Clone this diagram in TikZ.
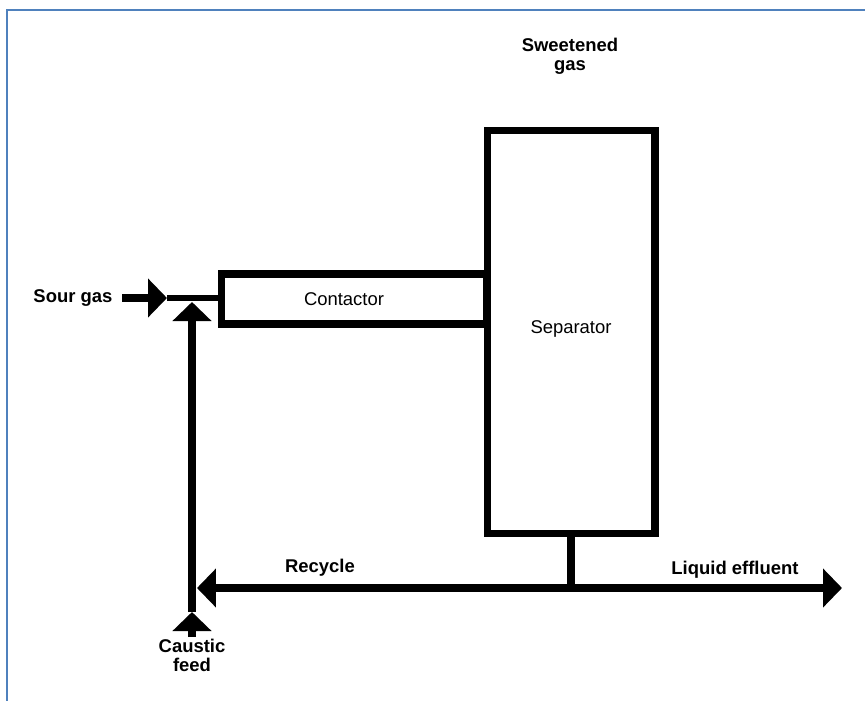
\documentclass[tikz,border=0pt]{standalone}
\usepackage{fontspec}
\setmainfont{Liberation Sans}
\usetikzlibrary{arrows.meta, positioning, calc}
\definecolor{frameblue}{RGB}{79,129,189}

\begin{document}
\begin{tikzpicture}[x=0.02cm, y=-0.02cm,
	unitbox/.style={rectangle, draw, line width=4pt, inner sep=0pt, font=\fontsize{10.5}{11}\selectfont},
	pipe/.style={line width=4pt},
	flow/.style={line width=4pt, -{Triangle[length=0.38cm, width=0.76cm]}},
	tag/.style={font=\fontsize{10.5}{11}\selectfont\bfseries, align=center, inner sep=1pt},
	every node/.style={align=center}
	]
	\useasboundingbox (0,0) rectangle (865,700);
	
	%Frame
	\draw[frameblue, line width=1.2pt] (7,705) -- (7,10) -- (870,10);
	
	%Units
	\node[unitbox, minimum width=3.36cm, minimum height=8.08cm] (sep) at (571,332) {Separator\\[-0.19cm]};
	\node[unitbox, minimum width=5.32cm, minimum height=1cm] (cont) at (354,299) {Contactor\hspace{0.4cm}};
	\node[tag] (sweet) at (570,56) {Sweetened\\gas};
	
	%Sour gas feed
	\coordinate (sourin) at (122,298);
	\coordinate (sourtip) at (167,298);
	\node[tag, left=0.15cm of sourin] (sour) {Sour gas};
	\draw[flow] (sourin) -- (sourtip);
	\draw[pipe, line width=3pt] (sourtip) -- (sourtip -| cont.west);
	
	%Caustic feed
	\coordinate (feed) at (192,637);
	\coordinate (feedtip) at (192,612);
	\coordinate (mixtip) at (192,302);
	\node[tag, below=0pt of feed] (caustic) {Caustic\\feed};
	\draw[flow] (feed) -- (feedtip);
	\draw[flow] (feedtip) -- (mixtip);
	
	%Recycle and effluent
	\coordinate (split) at (571,588);
	\coordinate (rectip) at (197,588);
	\coordinate (efftip) at (842,588);
	\draw[pipe] (sep.south) -- (split);
	\draw[flow] (split) -- (rectip);
	\draw[flow] (split) -- (efftip);
	\node[tag] (recycle) at (320,568) {Recycle};
	\node[tag] (effluent) at (735,570) {Liquid effluent};
\end{tikzpicture}
\end{document}
